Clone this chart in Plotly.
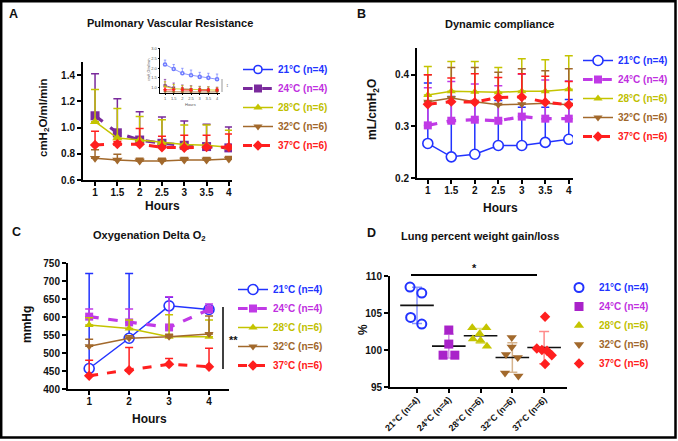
import plotly.graph_objects as go
import numpy as np

# ---------------- data ----------------
hours_ab = [1, 1.5, 2, 2.5, 3, 3.5, 4]
hours_ab_labels = ["1", "1.5", "2", "2.5", "3", "3.5", "4"]
hours_c = [1, 2, 3, 4]
group_names = ["21°C (n=4)", "24°C (n=4)", "28°C (n=6)", "32°C (n=6)", "37°C (n=6)"]

# A: Pulmonary vascular resistance (mean and upper error)
pvr_21_mean = [2.19, 1.95, 1.73, 1.63, 1.54, 1.49, 1.42]
pvr_21_err = [0.23, 0.24, 0.26, 0.27, 0.24, 0.24, 0.27]
pvr_24_mean = [1.09, 0.96, 0.905, 0.88, 0.865, 0.855, 0.845]
pvr_24_err = [0.32, 0.26, 0.215, 0.20, 0.185, 0.17, 0.16]
pvr_28_mean = [1.045, 0.92, 0.905, 0.885, 0.87, 0.865, 0.85]
pvr_28_err = [0.245, 0.225, 0.18, 0.175, 0.15, 0.155, 0.13]
pvr_32_mean = [0.765, 0.752, 0.745, 0.745, 0.752, 0.752, 0.76]
pvr_32_err = [0.065, 0.045, 0.02, 0.02, 0.02, 0.02, 0.02]
pvr_37_mean = [0.867, 0.874, 0.872, 0.849, 0.846, 0.851, 0.851]
pvr_37_err = [0.105, 0.02, 0.12, 0.085, 0.095, 0.09, 0.10]

# B: Dynamic compliance
dc_21_mean = [0.267, 0.241, 0.246, 0.263, 0.263, 0.269, 0.275]
dc_21_err = [0.117, 0.117, 0.101, 0.087, 0.074, 0.068, 0.077]
dc_24_mean = [0.302, 0.311, 0.313, 0.311, 0.319, 0.315, 0.315]
dc_24_err = [0.073, 0.076, 0.069, 0.068, 0.082, 0.075, 0.073]
dc_28_mean = [0.361, 0.368, 0.367, 0.366, 0.368, 0.368, 0.372]
dc_28_err = [0.055, 0.058, 0.059, 0.048, 0.063, 0.061, 0.065]
dc_32_mean = [0.348, 0.355, 0.348, 0.342, 0.343, 0.345, 0.342]
dc_32_err = [0.052, 0.059, 0.066, 0.063, 0.069, 0.063, 0.070]
dc_37_mean = [0.343, 0.348, 0.347, 0.356, 0.357, 0.347, 0.342]
dc_37_err = [0.057, 0.046, 0.055, 0.039, 0.045, 0.050, 0.045]

# C: Oxygenation delta O2
ox_21_mean = [457, 541, 631, 621]
ox_21_err = [264, 180, 24, 4]
ox_24_mean = [601, 585, 571, 621]
ox_24_err = [21, 37, 85, 15]
ox_28_mean = [578, 568, 545, 545]
ox_28_err = [20, 24, 61, 47]
ox_32_mean = [519, 541, 545, 553]
ox_32_err = [19, 7, 7, 50]
ox_37_mean = [437, 452, 469, 462]
ox_37_err = [43, 63, 16, 51]

# D: Lung percent weight gain/loss (individual animals)
wt_21 = [108.5, 107.7, 104.4, 103.5]
wt_24 = [102.7, 100.8, 99.3, 99.3]
wt_28 = [103.0, 103.0, 102.2, 101.5, 101.3, 100.5]
wt_32 = [101.7, 100.4, 99.4, 99.0, 96.9, 96.5]
wt_37 = [104.5, 100.2, 100.0, 99.9, 99.3, 98.1]
# horizontal scatter offsets (presentation only)
jit_21 = [-0.22, 0.15, -0.2, 0.15]
jit_24 = [0.0, 0.0, -0.18, 0.19]
jit_28 = [-0.26, 0.18, -0.03, -0.24, 0.0, 0.2]
jit_32 = [-0.02, -0.02, -0.2, 0.17, -0.23, 0.19]
jit_37 = [0.03, -0.23, -0.07, 0.09, 0.24, 0.03]

# ---------------- styles ----------------
FONT = "Liberation Sans, Arial, sans-serif"
BLUE, YEL, BRN, RED = "#2233ff", "#c4c400", "#a2692c", "#ff1f1f"
PURPLE_A, PURPLE = "#7a2a9c", "#c03ae6"
TXT = {"21": "#2233ff", "24": "#c030e0", "28": "#c0c000", "32": "#a0662a", "37": "#ff2020"}
keys = ["21", "24", "28", "32", "37"]
symbols = ["circle", "square", "triangle-up", "triangle-down", "diamond"]
dashes = ["solid", "dash", "solid", "solid", "dash"]
lwidths = [1.5, 3.2, 1.5, 1.5, 3.0]


def W(px):
    return px / 678.0


def H(py):
    return 1 - py / 441.0


def lname(i):
    return '<span style="color:%s">%s</span>' % (TXT[keys[i]], group_names[i])


fig = go.Figure()


def add_series(x, mean, err, i, color, xa, ya, legend, showlegend, msize, lw=None, ew=4, et=1.5):
    if symbols[i] == "circle":
        marker = dict(symbol="circle", color="white", size=msize, line=dict(color=color, width=1.6))
    else:
        marker = dict(symbol=symbols[i], color=color, size=msize, line=dict(width=0))
    fig.add_trace(go.Scatter(
        x=x, y=mean, mode="lines+markers", name=lname(i),
        line=dict(color=color, width=lw if lw is not None else lwidths[i], dash=dashes[i]),
        marker=marker,
        error_y=dict(type="data", symmetric=False, array=err, arrayminus=[0] * len(err),
                     color=color, thickness=et, width=ew),
        xaxis=xa, yaxis=ya, legend=legend, showlegend=showlegend,
    ))


# Panel A
pvr_means = [pvr_21_mean, pvr_24_mean, pvr_28_mean, pvr_32_mean, pvr_37_mean]
pvr_errs = [pvr_21_err, pvr_24_err, pvr_28_err, pvr_32_err, pvr_37_err]
colsA = [BLUE, PURPLE_A, YEL, BRN, RED]
sizesA = [9, 9, 9, 9, 8]
# inset (all groups)
for i in range(5):
    add_series(hours_ab, pvr_means[i], pvr_errs[i], i, colsA[i] if i else "#6f7cff", "x2", "y2", "legend",
               False, 3, lw=0.8, ew=1.2, et=0.7)
for i in [1, 2, 3, 4]:
    add_series(hours_ab, pvr_means[i], pvr_errs[i], i, colsA[i], "x", "y", "legend", False, sizesA[i])
# legend entries for A (21 °C is drawn in the inset)
for i in range(5):
    add_series([None], [None], [0], i, colsA[i], "x", "y", "legend", True, 8)

# Panel B
dc_means = [dc_21_mean, dc_24_mean, dc_28_mean, dc_32_mean, dc_37_mean]
dc_errs = [dc_21_err, dc_24_err, dc_28_err, dc_32_err, dc_37_err]
colsB = [BLUE, PURPLE, YEL, BRN, RED]
sizesB = [10, 8, 8, 8, 8]
for i in range(5):
    add_series(hours_ab, dc_means[i], dc_errs[i], i, colsB[i], "x3", "y3", "legend2", True, sizesB[i])

# Panel C
ox_means = [ox_21_mean, ox_24_mean, ox_28_mean, ox_32_mean, ox_37_mean]
ox_errs = [ox_21_err, ox_24_err, ox_28_err, ox_32_err, ox_37_err]
for i in range(5):
    add_series(hours_c, ox_means[i], ox_errs[i], i, colsB[i], "x4", "y4", "legend3", True, sizesB[i])

# Panel D
wts = [wt_21, wt_24, wt_28, wt_32, wt_37]
jits = [jit_21, jit_24, jit_28, jit_32, jit_37]
colsD = [BLUE, "#a922c9", YEL, BRN, RED]
lightD = ["#8a96ff", "#d493e8", "#e2e27a", "#d6b48e", "#ff8a8a"]
symD = ["circle-open", "square", "triangle-up", "triangle-down", "diamond"]
sizeD = [9, 9, 9, 9, 8]
for i in range(5):
    vals = np.array(wts[i])
    fig.add_trace(go.Scatter(
        x=[i], y=[vals.mean()], mode="markers", showlegend=False,
        marker=dict(symbol="line-ew", size=24, line=dict(color="#111", width=1.6)),
        error_y=dict(type="data", array=[vals.std(ddof=1)], color=lightD[i], thickness=1.5, width=5),
        xaxis="x5", yaxis="y5",
    ))
    mk = dict(symbol=symD[i], color=colsD[i], size=sizeD[i])
    if symD[i] == "circle-open":
        mk["line"] = dict(width=2, color=colsD[i])
    fig.add_trace(go.Scatter(
        x=[i + j for j in jits[i]], y=wts[i], mode="markers", name=lname(i),
        marker=mk, xaxis="x5", yaxis="y5", legend="legend4", showlegend=True,
    ))

# ---------------- axes ----------------
tickfont = dict(family=FONT, size=10, color="#111", weight="bold")
ax = dict(showline=True, linewidth=2, linecolor="black", ticks="outside", ticklen=4, tickwidth=1.5,
          tickcolor="black", showgrid=False, zeroline=False, tickfont=tickfont, automargin=False)
small = dict(linewidth=0.8, ticklen=1.5, tickwidth=0.6, tickfont=dict(family=FONT, size=4, color="#555"))

fig.update_layout(
    xaxis=dict(ax, domain=[W(83), W(232)], range=[0.73, 4.07], tickvals=hours_ab, ticktext=hours_ab_labels,
               anchor="y", ticklabelstandoff=-2),
    yaxis=dict(ax, domain=[H(180), H(62)], range=[0.6, 1.5], tickvals=[0.6, 0.8, 1.0, 1.2, 1.4],
               ticktext=["0.6", "0.8", "1.0", "1.2", "1.4"], anchor="x"),
    xaxis2=dict(ax, domain=[W(160), W(220)], range=[0.71, 4.17], tickvals=hours_ab, ticktext=hours_ab_labels,
                anchor="y2", **small),
    yaxis2=dict(ax, domain=[H(93), H(48)], range=[0.7, 3.05], tickvals=[1.0, 1.5, 2.0, 2.5, 3.0],
                ticktext=["1.0", "1.5", "2.0", "2.5", "3.0"], anchor="x2", **small),
    xaxis3=dict(ax, domain=[W(417), W(573)], range=[0.77, 4.09], tickvals=hours_ab, ticktext=hours_ab_labels,
                anchor="y3", ticklabelstandoff=-2),
    yaxis3=dict(ax, domain=[H(178), H(48)], range=[0.2, 0.452], tickvals=[0.2, 0.3, 0.4],
                ticktext=["0.2", "0.3", "0.4"], anchor="x3"),
    xaxis4=dict(ax, domain=[W(68), W(229)], range=[0.47, 4.5], tickvals=hours_c, anchor="y4", ticklabelstandoff=-2),
    yaxis4=dict(ax, domain=[H(389), H(263)], range=[400, 750], tickvals=list(range(400, 751, 50)), anchor="x4"),
    xaxis5=dict(ax, domain=[W(390), W(567)], range=[-0.85, 4.72], tickvals=[0, 1, 2, 3, 4], ticktext=group_names,
                tickangle=-45, anchor="y5", ticklabelstandoff=-2,
                tickfont=dict(family=FONT, size=9, color="#111", weight="bold")),
    yaxis5=dict(ax, domain=[H(387), H(276)], range=[95, 110], tickvals=[95, 100, 105, 110], anchor="x5"),
)

legfont = dict(family=FONT, size=10, color="#111", weight="bold")
legbase = dict(bgcolor="rgba(0,0,0,0)", font=legfont, itemwidth=30, tracegroupgap=0,
               xanchor="left", yanchor="top", borderwidth=0)
fig.update_layout(
    legend=dict(legbase, x=W(238), y=H(55)),
    legend2=dict(legbase, x=W(578), y=H(46)),
    legend3=dict(legbase, x=W(233), y=H(275)),
    legend4=dict(legbase, x=W(559), y=H(273)),
)

# ---------------- annotations ----------------
ann = []


def text(px, py, s, size, angle=0, color="#111", bold=True):
    ann.append(dict(x=W(px), y=H(py), xref="paper", yref="paper", text=s, showarrow=False, textangle=angle,
                    font=dict(family=FONT, size=size, color=color, weight="bold" if bold else "normal"),
                    xanchor="center", yanchor="middle"))


text(13, 14, "A", 12.5)
text(361, 14, "B", 12.5)
text(16, 232, "C", 12.5)
text(371, 233, "D", 12.5)
text(170, 23, "Pulmonary Vascular Resistance", 11)
text(499, 24, "Dynamic compliance", 11)
text(149, 236, "Oxygenation Delta O<sub>2</sub>", 11)
text(480, 236, "Lung percent weight gain/loss", 11)
text(162, 206, "Hours", 12)
text(500, 208, "Hours", 12)
text(149, 419, "Hours", 12)
text(44, 118, "cmH<sub>2</sub>O/ml/min", 11.5, angle=-90)
text(373, 110, "mL/cmH<sub>2</sub>O", 12, angle=-90)
text(27, 325, "mmHg", 12, angle=-90)
text(363, 330, "%", 12, angle=-90)
text(233, 340, "**", 11)
text(474, 268, "*", 11)
# inset labels
text(191, 104, "Hours", 4, color="#555", bold=False)
text(149, 70, "cmH<sub>2</sub>O/ml/min", 3.5, angle=-90, color="#555", bold=False)
text(227, 86, "**", 4, angle=90, color="#555", bold=False)

shapes = [
    dict(type="rect", xref="paper", yref="paper", x0=W(1.2), x1=W(675.5), y0=H(437.5), y1=H(1.2),
         line=dict(color="black", width=2.5)),
    dict(type="line", xref="paper", yref="paper", x0=W(223), x1=W(223), y0=H(307), y1=H(369),
         line=dict(color="black", width=1.5)),
    dict(type="line", xref="paper", yref="paper", x0=W(411), x1=W(537), y0=H(275), y1=H(275),
         line=dict(color="black", width=2)),
    dict(type="line", xref="paper", yref="paper", x0=W(222), x1=W(222), y0=H(79), y1=H(92),
         line=dict(color="#555", width=0.6)),
]

fig.update_layout(
    width=678, height=441, margin=dict(l=0, r=0, t=0, b=0, autoexpand=False),
    paper_bgcolor="white", plot_bgcolor="white",
    annotations=ann, shapes=shapes,
    font=dict(family=FONT, color="#111"),
)

fig.write_html("out.html", config={"displayModeBar": False},
               post_script="document.body.style.margin='0px';document.body.style.overflow='hidden';")
